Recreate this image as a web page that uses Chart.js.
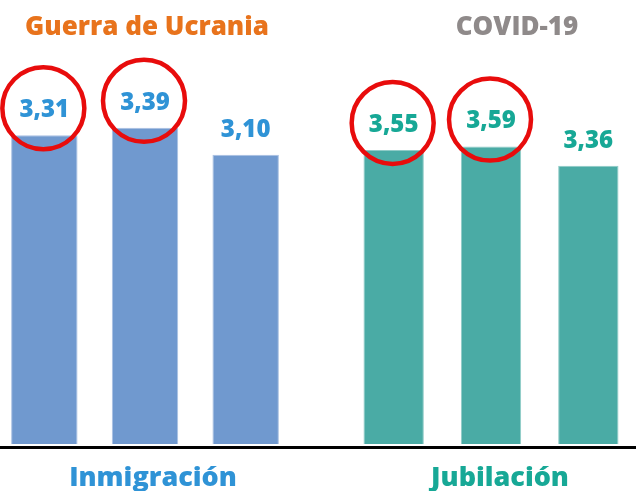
<!DOCTYPE html>
<html>
<head>
<meta charset="utf-8">
<script src="https://cdn.jsdelivr.net/npm/chart.js@4/dist/chart.umd.min.js"></script>
<style>
    html, body { margin: 0; padding: 0; background: #fff; }
    body { width: 636px; height: 491px; position: relative; overflow: hidden; }
    .box { position: absolute; top: 0; height: 491px; }
    #box-left { left: -6px; width: 330px; }
    #box-right { left: 300px; width: 337px; }
</style>
</head>
<body>
<div class="box" id="box-left"><canvas id="chart-left" width="330" height="491"></canvas></div>
<div class="box" id="box-right"><canvas id="chart-right" width="337" height="491"></canvas></div>
<script>
// datos de cada panel
const barsLeft = ['1', '2', '3'];
const valuesLeft = [3.31, 3.39, 3.10];
const circledLeft = [0, 1];

const barsRight = ['1', '2', '3'];
const valuesRight = [3.55, 3.59, 3.36];
const circledRight = [0, 1];

const titleLeft = 'Guerra de Ucrania';
const titleRight = 'COVID-19';
const groupLeft = 'Inmigración';
const groupRight = 'Jubilación';

const FONT = '"Open Sans", "DejaVu Sans", sans-serif';

// etiquetas de valor + círculos rojos
const valueLabels = {
    id: 'valueLabels',
    afterDatasetsDraw(chart, args, opts) {
        const ctx = chart.ctx;
        const meta = chart.getDatasetMeta(0);
        const data = chart.data.datasets[0].data;
        ctx.save();
        ctx.font = '800 24px ' + FONT;
        ctx.textAlign = 'center';
        ctx.textBaseline = 'middle';
        meta.data.forEach((bar, i) => {
            const y = bar.y - opts.offset;
            ctx.fillStyle = opts.color;
            ctx.fillText(data[i].toFixed(2).replace('.', ','), bar.x, y + 1);
            if (opts.circled.includes(i)) {
                ctx.beginPath();
                ctx.arc(bar.x - 1, y - 1, 41, 0, Math.PI * 2);
                ctx.lineWidth = 4.5;
                ctx.strokeStyle = '#e80c0c';
                ctx.stroke();
            }
        });
        ctx.restore();
    }
};

// línea base negra y textos de cabecera / pie
const frame = {
    id: 'frame',
    afterDraw(chart, args, opts) {
        const ctx = chart.ctx;
        const y = Math.round(chart.chartArea.bottom) + 2;
        ctx.save();
        ctx.fillStyle = '#000';
        ctx.fillRect(0, y, opts.lineEnd || chart.width, 3);

        ctx.textAlign = 'center';
        ctx.textBaseline = 'alphabetic';
        ctx.font = '800 26px ' + FONT;
        ctx.fillStyle = opts.titleColor;
        ctx.fillText(opts.title, opts.titleX, 35);
        ctx.font = '800 27px ' + FONT;
        ctx.fillStyle = opts.groupColor;
        ctx.fillText(opts.group, opts.groupX, 486);
        ctx.restore();
    }
};

function makeChart(canvasId, labels, values, cfg) {
    return new Chart(document.getElementById(canvasId), {
        type: 'bar',
        data: {
            labels: labels,
            datasets: [{
                data: values,
                backgroundColor: cfg.barColor,
                borderColor: cfg.edgeColor,
                borderWidth: 1,
                barPercentage: cfg.barPct,
                categoryPercentage: 1
            }]
        },
        options: {
            responsive: false,
            animation: false,
            layout: { padding: cfg.padding },
            scales: {
                x: { display: false },
                y: { display: false, min: 0, max: cfg.yMax }
            },
            plugins: {
                legend: { display: false },
                tooltip: { enabled: false },
                valueLabels: { color: cfg.labelColor, offset: 26, circled: cfg.circled },
                frame: {
                    title: cfg.title, titleColor: cfg.titleColor, titleX: cfg.titleX,
                    group: cfg.group, groupColor: cfg.groupColor, groupX: cfg.groupX,
                    lineEnd: cfg.lineEnd
                }
            }
        },
        plugins: [valueLabels, frame]
    });
}

makeChart('chart-left', barsLeft, valuesLeft, {
    barColor: '#7099cf', edgeColor: '#a9c0e2', barPct: 0.66,
    padding: { top: 0, left: 0, right: 28, bottom: 47 },
    yMax: 4.76, labelColor: '#2f93d6', circled: circledLeft,
    title: titleLeft, titleColor: '#e8731c', titleX: 153,
    group: groupLeft, groupColor: '#2f93d6', groupX: 159,
    lineEnd: 306
});

makeChart('chart-right', barsRight, valuesRight, {
    barColor: '#4aaba5', edgeColor: '#8fcbc7', barPct: 0.62,
    padding: { top: 0, left: 45, right: 0, bottom: 47 },
    yMax: 5.36, labelColor: '#17a896', circled: circledRight,
    title: titleRight, titleColor: '#8f8a8a', titleX: 217,
    group: groupRight, groupColor: '#17a896', groupX: 200
});
</script>
</body>
</html>
